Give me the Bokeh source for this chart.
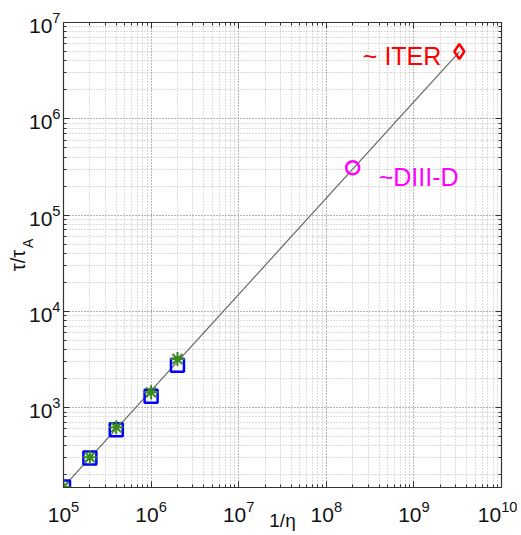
import math
from bokeh.plotting import figure
from bokeh.models import Label, LogAxis, LogTicker, FixedTicker, Range1d
from bokeh.embed import file_html
from bokeh.resources import INLINE

# ---- data ----
x_sim = [1e5, 2e5, 4e5, 1e6, 2e6]
y_square = [150, 300, 590, 1310, 2750]
y_star = [150, 305, 625, 1440, 3200]
x_fit = [1e5, 3.3e9]
y_fit = [150, 4.95e6]
diiid_x = [2e8]
diiid_y = [3.1e5]
iter_x = [3.3e9]
iter_y = [5.0e6]

FONT = "Liberation Sans"
NBSP = "\u00a0"

p = figure(width=517, height=533, x_axis_type="log", y_axis_type="log",
           x_range=Range1d(1e5, 1e10), y_range=Range1d(148, 1e7),
           output_backend="svg", toolbar_location=None,
           min_border_left=63, min_border_right=16,
           min_border_top=22, min_border_bottom=45)
p.background_fill_color = "white"
p.border_fill_color = "white"
p.outline_line_color = "#333333"
p.outline_line_width = 1.2

for ax in [p.xaxis[0], p.yaxis[0]]:
    ax.ticker = LogTicker(num_minor_ticks=10)
    ax.major_label_text_font = FONT
    ax.major_label_text_font_size = "21px"
    ax.major_label_text_color = "#111111"
    ax.major_tick_in = 6
    ax.major_tick_out = 0
    ax.minor_tick_in = 3
    ax.minor_tick_out = 0
    ax.axis_line_color = "#333333"
    ax.major_tick_line_color = "#333333"
    ax.minor_tick_line_color = "#333333"
    ax.axis_label_text_font = FONT
    ax.axis_label_text_font_style = "normal"
    ax.axis_label_text_color = "#111111"
p.xaxis.major_label_standoff = 13
p.yaxis.major_label_standoff = 3
p.xaxis.axis_label = "1/η"
p.xaxis.axis_label_text_font_size = "19px"
p.xaxis.axis_label_standoff = -15
p.yaxis.axis_label = "τ/τ" + NBSP * 2
p.yaxis.axis_label_text_font_size = "20px"
p.yaxis.axis_label_standoff = -3

# subscript "A" of the y title, carried by a tick-less second left axis
sub_ax = LogAxis(ticker=FixedTicker(ticks=[]))
sub_ax.axis_line_color = None
sub_ax.major_tick_line_color = None
sub_ax.minor_tick_line_color = None
sub_ax.major_label_standoff = 0
sub_ax.axis_label = NBSP * 6 + "A"
sub_ax.axis_label_text_font = FONT
sub_ax.axis_label_text_font_style = "normal"
sub_ax.axis_label_text_font_size = "14px"
sub_ax.axis_label_text_color = "#111111"
sub_ax.axis_label_standoff = -32
p.add_layout(sub_ax, "left")

for g in [p.xgrid[0], p.ygrid[0]]:
    g.ticker = LogTicker(num_minor_ticks=10)
    g.grid_line_color = "#a0a0a0"
    g.grid_line_dash = "1 2"
    g.grid_line_width = 1
    g.minor_grid_line_color = "#b8b8b8"
    g.minor_grid_line_dash = "1 2"
    g.minor_grid_line_width = 1

# box ticks on top and right
for loc in ["above", "right"]:
    ax = LogAxis(ticker=LogTicker(num_minor_ticks=10))
    ax.major_label_text_font_size = "4px"
    ax.major_label_text_color = None
    ax.major_label_standoff = 0
    ax.major_tick_in = 6
    ax.major_tick_out = 0
    ax.minor_tick_in = 3
    ax.minor_tick_out = 0
    ax.axis_line_color = "#333333"
    ax.major_tick_line_color = "#333333"
    ax.minor_tick_line_color = "#333333"
    p.add_layout(ax, loc)

p.line(x_fit, y_fit, line_color="#666666", line_width=1.2)
p.scatter(x_sim, y_square, marker="square", size=13, fill_color=None,
          line_color="#0000ff", line_width=2.5)
p.scatter(x_sim, y_star, marker="asterisk", size=14,
          line_color="#3a8a1a", line_width=2)
p.scatter(diiid_x, diiid_y, marker="circle", size=13, fill_color=None,
          line_color="#ff00ff", line_width=2.5)
p.scatter(iter_x, iter_y, marker="diamond", size=15, fill_color=None,
          line_color="#ff0000", line_width=2.5)

p.add_layout(Label(x=iter_x[0], y=iter_y[0], text="~ ITER", x_offset=-18, y_offset=-5,
                   text_align="right", text_baseline="middle",
                   text_font=FONT, text_font_size="25px", text_color="#ff0000"))
p.add_layout(Label(x=diiid_x[0], y=diiid_y[0], text="~DIII-D", x_offset=26, y_offset=-9,
                   text_align="left", text_baseline="middle",
                   text_font=FONT, text_font_size="25px", text_color="#ff00ff"))

open("out.html", "w").write(file_html(p, INLINE))
